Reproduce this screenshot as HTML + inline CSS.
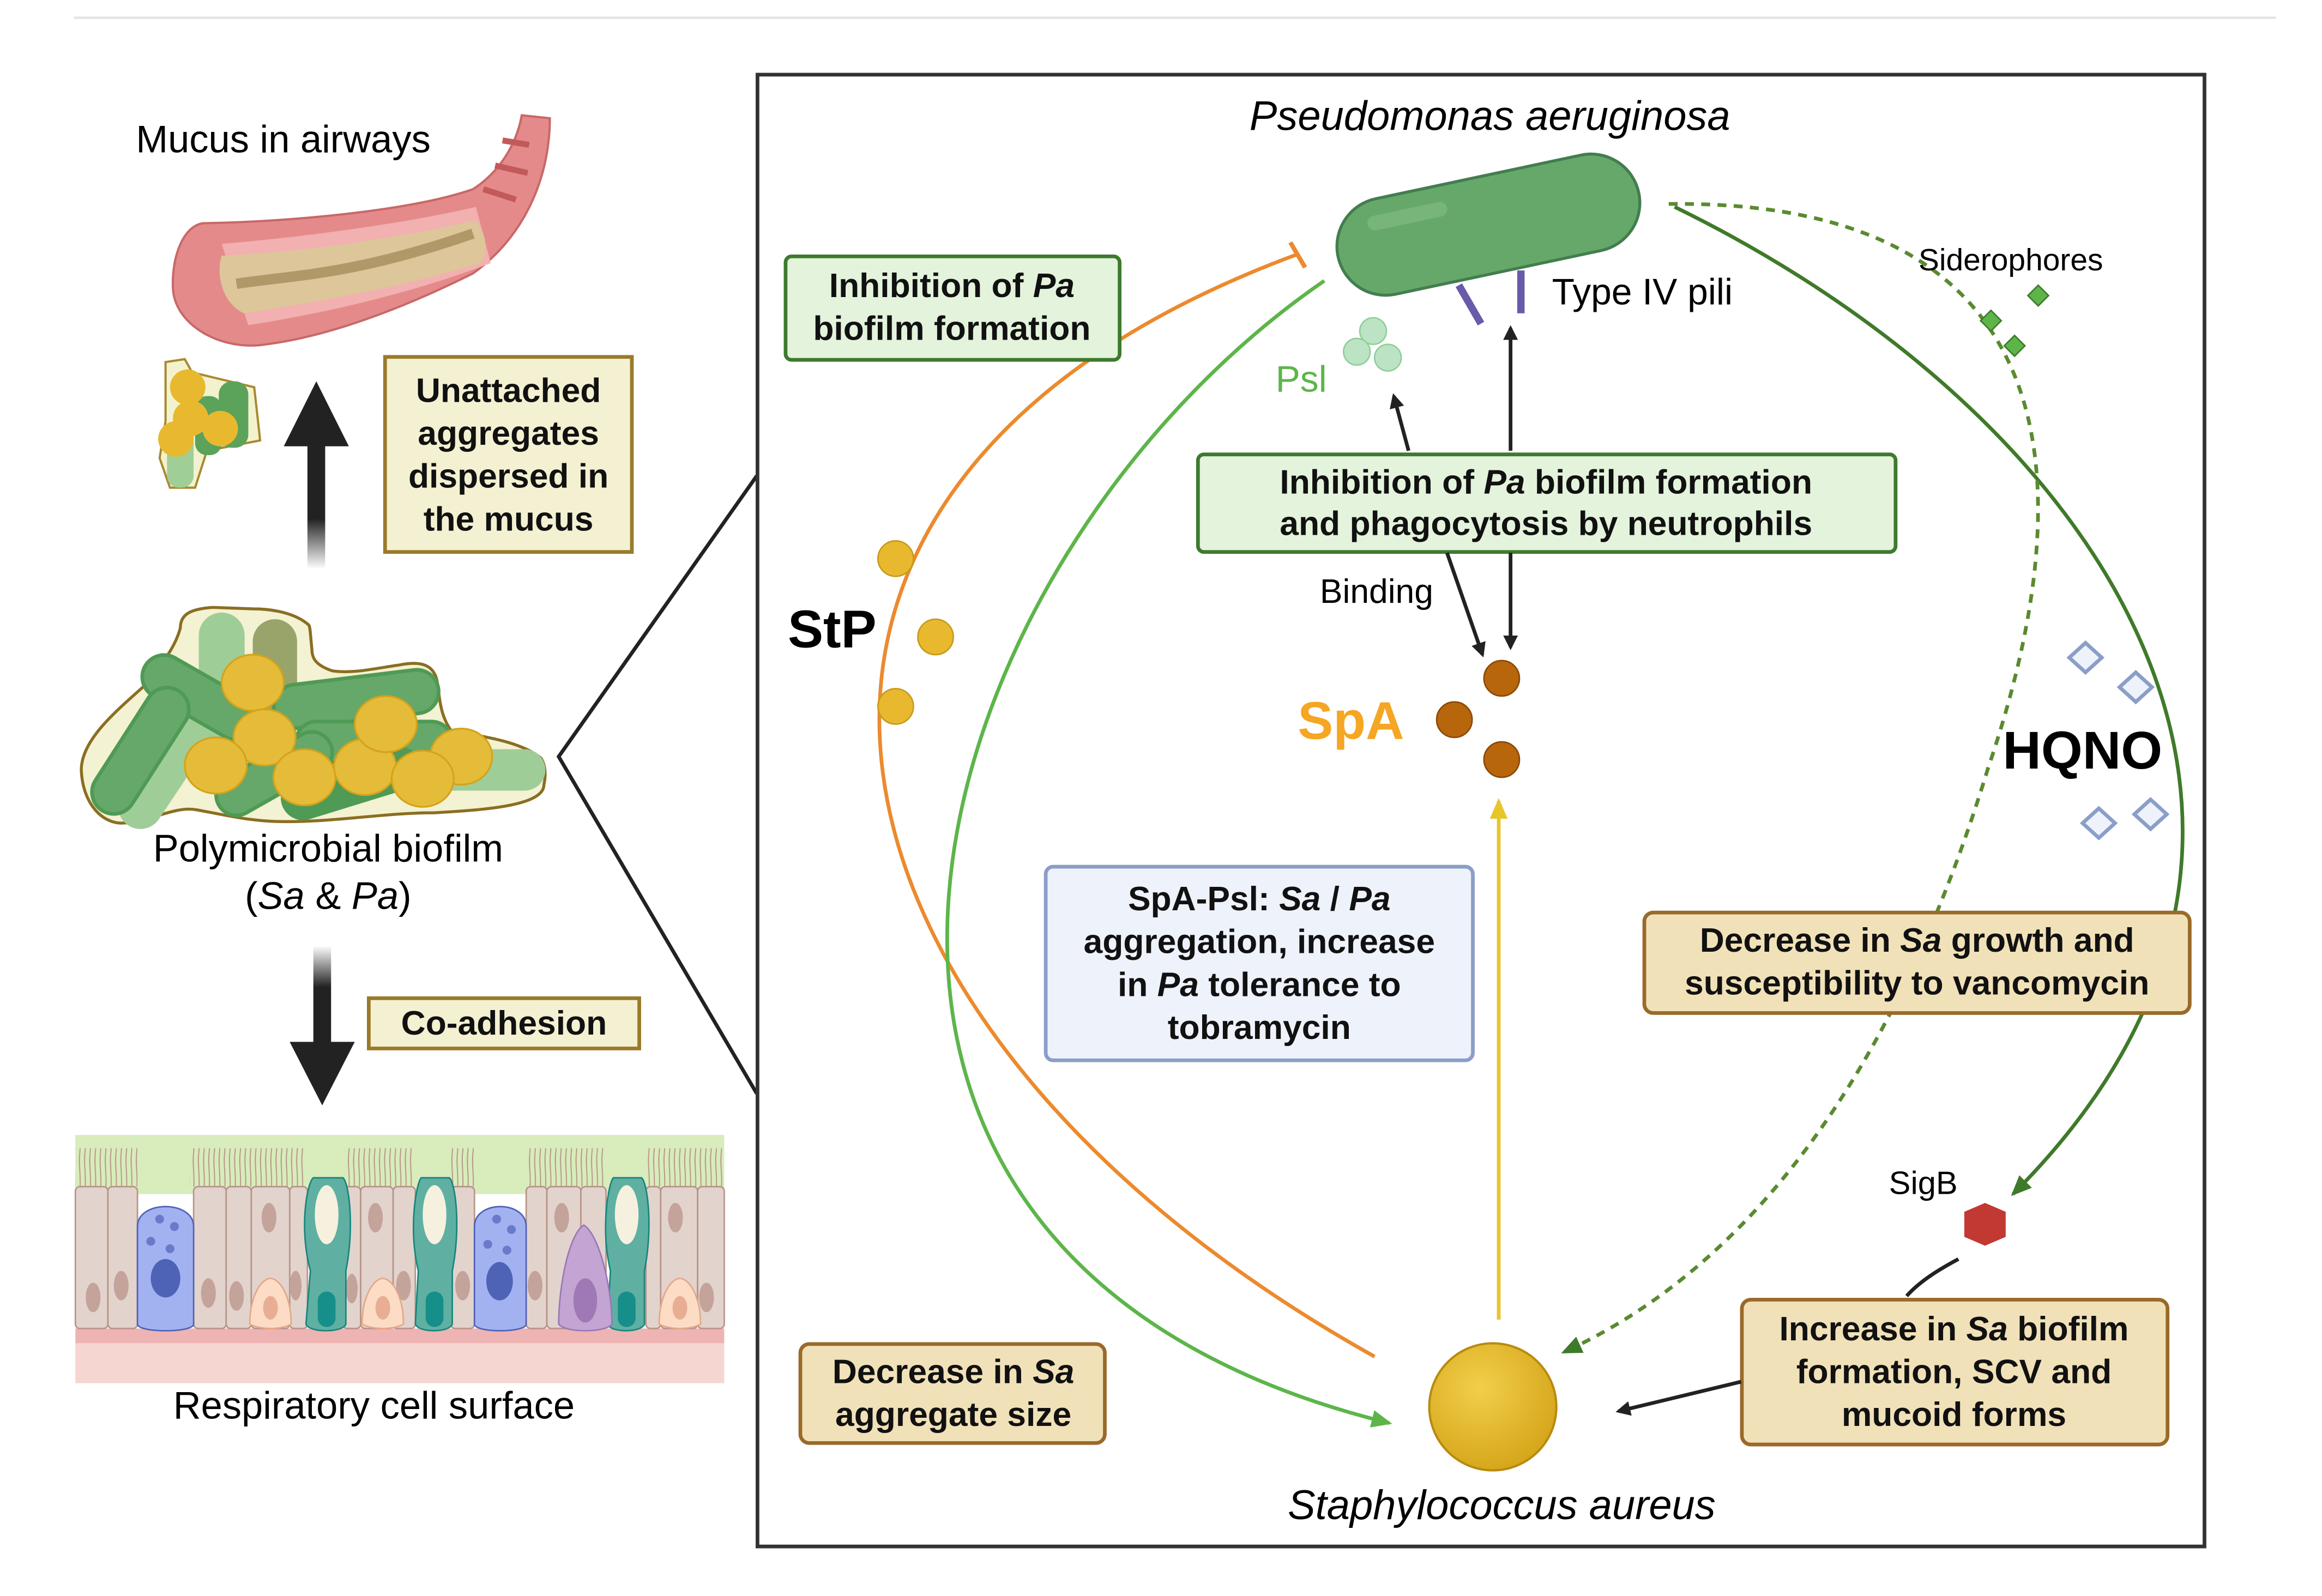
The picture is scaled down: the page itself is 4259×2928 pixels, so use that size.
<!DOCTYPE html>
<html><head><meta charset="utf-8">
<style>
html,body{margin:0;padding:0;background:#fff;}
svg{display:block;}
text{font-family:"Liberation Sans",sans-serif;}
.b{font-weight:bold;font-size:23px;fill:#111;}
</style></head><body>
<svg width="4259" height="2928" viewBox="0 0 1571 1080" xmlns="http://www.w3.org/2000/svg">
<defs>
<marker id="ak" markerWidth="10" markerHeight="10" refX="8" refY="5" orient="auto" markerUnits="userSpaceOnUse"><path d="M0,0 L10,5 L0,10 Z" fill="#222"/></marker>
<marker id="ag" markerWidth="14" markerHeight="12" refX="12" refY="6" orient="auto" markerUnits="userSpaceOnUse"><path d="M0,0 L14,6 L0,12 Z" fill="#5db54a"/></marker>
<marker id="adg" markerWidth="14" markerHeight="12" refX="12" refY="6" orient="auto" markerUnits="userSpaceOnUse"><path d="M0,0 L14,6 L0,12 Z" fill="#3f7a2a"/></marker>
<marker id="ady" markerWidth="14" markerHeight="12" refX="12" refY="6" orient="auto" markerUnits="userSpaceOnUse"><path d="M0,0 L14,6 L0,12 Z" fill="#e8c62a"/></marker>
<linearGradient id="fade" x1="0" y1="1" x2="0" y2="0"><stop offset="0" stop-color="#222" stop-opacity="0"/><stop offset="0.4" stop-color="#222"/></linearGradient>
<linearGradient id="fade2" x1="0" y1="0" x2="0" y2="1"><stop offset="0" stop-color="#222" stop-opacity="0"/><stop offset="0.4" stop-color="#222"/></linearGradient>
<radialGradient id="sa" cx="0.4" cy="0.35" r="0.7"><stop offset="0" stop-color="#f2cf4a"/><stop offset="1" stop-color="#d4a418"/></radialGradient>
<pattern id="cil" width="3.5" height="26" patternUnits="userSpaceOnUse"><path d="M1.5,0 C0.5,8 2.5,16 1.5,26" stroke="#b89488" stroke-width="0.7" fill="none"/></pattern>
</defs>
<line x1="50" y1="12" x2="1540" y2="12" stroke="#e2e2e2" stroke-width="1.5"/>

<!-- LEFT PANEL -->
<text x="92" y="103" font-size="26">Mucus in airways</text>
<path d="M138,151 C200,150 280,142 320,128 C340,115 350,95 353,78 L372,80 C372,120 355,160 320,185 C270,210 220,228 180,233 C150,238 118,220 117,195 C116,172 125,152 138,151Z" fill="#e58a8a" stroke="#c86868" stroke-width="1.5"/>
<path d="M340,95 l18,3 M335,112 l22,5 M327,128 l22,7" stroke="#c25a5a" stroke-width="4"/>
<path d="M150,165 C210,160 280,150 322,140 L332,178 C280,198 220,212 168,220 Z" fill="#f2b0b0"/>
<path d="M150,173 C200,171 270,161 322,149 C330,160 330,170 325,178 C270,195 210,205 165,212 C150,205 146,185 150,173Z" fill="#dcc69a"/>
<path d="M160,192 C200,186 240,186 320,158" stroke="#b09868" stroke-width="7" fill="none"/>
<path d="M112,245 L125,243 L130,252 L172,262 L176,298 L140,305 L132,330 L115,330 L108,310 L112,285 Z" fill="#f3f2cf" stroke="#a88a30" stroke-width="1.5"/>
<rect x="113" y="285" width="18" height="45" rx="8" fill="#9fcf97"/>
<rect x="148" y="258" width="20" height="45" rx="9" fill="#5ba25a"/>
<rect x="132" y="268" width="18" height="40" rx="8" fill="#5ba25a"/>
<circle cx="127" cy="262" r="12" fill="#e8b92e"/><circle cx="129" cy="283" r="12" fill="#e8b92e"/><circle cx="149" cy="290" r="12" fill="#e8b92e"/><circle cx="119" cy="297" r="12" fill="#e8b92e"/>
<rect x="208" y="300" width="12" height="85" fill="url(#fade)"/>
<path d="M192,302 L214,258 L236,302 Z" fill="#222"/>
<rect x="260.5" y="241.5" width="167" height="132" fill="#f4f1d2" stroke="#9a7a2a" stroke-width="2.5"/>
<text class="b" text-anchor="middle"><tspan x="344" y="272">Unattached</tspan><tspan x="344" y="301">aggregates</tspan><tspan x="344" y="330">dispersed in</tspan><tspan x="344" y="359">the mucus</tspan></text>
<path d="M144,411 C130,412 122,415 122,425 C118,440 108,450 100,462 C80,480 55,500 55,521 C56,545 70,557 82,557 C100,557 118,545 133,548 C155,552 170,556 193,556 C230,556 260,550 294,550 C330,548 368,545 368,531 C370,522 368,516 366,513 C350,500 320,498 305,494 C295,480 298,462 294,456 C290,448 280,448 270,450 C255,452 240,456 225,454 C213,450 211,445 211,439 C210,430 210,425 209,423 C200,415 185,412 171,412 Z" fill="#f3f2d2" stroke="#8a6e22" stroke-width="2"/>
<g stroke-linecap="round" fill="none">
<line x1="150" y1="430" x2="150" y2="500" stroke="#9fcd97" stroke-width="31"/>
<line x1="186" y1="434" x2="186" y2="490" stroke="#98a46a" stroke-width="30"/>
<line x1="131" y1="492" x2="95" y2="546" stroke="#9fcd97" stroke-width="30"/>
<line x1="111" y1="458" x2="160" y2="486" stroke="#4f9a55" stroke-width="32"/>
<line x1="111" y1="458" x2="160" y2="486" stroke="#66a86a" stroke-width="27"/>
<line x1="113" y1="480" x2="77" y2="536" stroke="#4f9a55" stroke-width="32"/>
<line x1="113" y1="480" x2="77" y2="536" stroke="#66a86a" stroke-width="27"/>
<line x1="301" y1="521" x2="355" y2="521" stroke="#9fcd97" stroke-width="28"/>
<line x1="200" y1="478" x2="282" y2="468" stroke="#4f9a55" stroke-width="32"/>
<line x1="200" y1="478" x2="282" y2="468" stroke="#66a86a" stroke-width="27"/>
<line x1="214" y1="502" x2="292" y2="502" stroke="#4f9a55" stroke-width="30"/>
<line x1="214" y1="502" x2="292" y2="502" stroke="#66a86a" stroke-width="25"/>
<line x1="160" y1="538" x2="211" y2="509" stroke="#4f9a55" stroke-width="30"/>
<line x1="160" y1="538" x2="211" y2="509" stroke="#66a86a" stroke-width="25"/>
<line x1="205" y1="540" x2="270" y2="520" stroke="#4f9a55" stroke-width="30"/>
</g>
<g fill="#e4bc3a" stroke="#d6a21a" stroke-width="1.2">
<ellipse cx="171" cy="462" rx="21" ry="19"/><ellipse cx="179" cy="499" rx="21" ry="19"/><ellipse cx="146" cy="518" rx="21" ry="19"/><ellipse cx="206" cy="526" rx="21" ry="19"/><ellipse cx="247" cy="519" rx="21" ry="19"/><ellipse cx="261" cy="490" rx="21" ry="19"/><ellipse cx="312" cy="512" rx="21" ry="19"/><ellipse cx="286" cy="527" rx="21" ry="19"/>
</g>
<text x="222" y="583" font-size="26" text-anchor="middle">Polymicrobial biofilm</text>
<text x="222" y="615" font-size="26" text-anchor="middle">(<tspan font-style="italic">Sa</tspan> &amp; <tspan font-style="italic">Pa</tspan>)</text>
<rect x="212" y="640" width="12" height="70" fill="url(#fade2)"/>
<path d="M196,705 L218,748 L240,705 Z" fill="#222"/>
<rect x="249.5" y="675.5" width="183" height="34" fill="#f4f1d2" stroke="#9a7a2a" stroke-width="2.5"/>
<text class="b" x="341" y="700" text-anchor="middle">Co-adhesion</text>
<rect x="51" y="768" width="439" height="40" fill="#d8ecbc"/>
<rect x="51" y="899" width="439" height="10" fill="#eeb3b3"/>
<rect x="51" y="909" width="439" height="27" fill="#f6d6d0"/>
<g fill="url(#cil)">
<rect x="51" y="777" width="42" height="26"/><rect x="128" y="777" width="78" height="26"/><rect x="233" y="777" width="46" height="26"/><rect x="305" y="777" width="16" height="26"/><rect x="356" y="777" width="54" height="26"/><rect x="437" y="777" width="53" height="26"/>
</g>
<g fill="#e2d3cd" stroke="#b89488" stroke-width="1">
<rect x="51" y="803" width="22" height="96" rx="3"/><rect x="73" y="803" width="20" height="96" rx="3"/><rect x="131" y="803" width="22" height="96" rx="3"/><rect x="153" y="803" width="17" height="96" rx="3"/><rect x="170" y="803" width="26" height="96" rx="3"/><rect x="196" y="803" width="12" height="96" rx="3"/><rect x="232" y="803" width="12" height="96" rx="3"/><rect x="244" y="803" width="22" height="96" rx="3"/><rect x="266" y="803" width="15" height="96" rx="3"/><rect x="305" y="803" width="16" height="96" rx="3"/><rect x="356" y="803" width="14" height="96" rx="3"/><rect x="370" y="803" width="23" height="96" rx="3"/><rect x="393" y="803" width="17" height="96" rx="3"/><rect x="437" y="803" width="10" height="96" rx="3"/><rect x="447" y="803" width="25" height="96" rx="3"/><rect x="472" y="803" width="18" height="96" rx="3"/>
</g>
<g fill="#c4a39b"><ellipse cx="63" cy="878" rx="5" ry="10"/><ellipse cx="82" cy="870" rx="5" ry="10"/><ellipse cx="141" cy="875" rx="5" ry="10"/><ellipse cx="160" cy="877" rx="5" ry="10"/><ellipse cx="182" cy="824" rx="5" ry="10"/><ellipse cx="200" cy="870" rx="4" ry="10"/><ellipse cx="238" cy="872" rx="4" ry="10"/><ellipse cx="254" cy="824" rx="5" ry="10"/><ellipse cx="273" cy="870" rx="5" ry="10"/><ellipse cx="313" cy="870" rx="5" ry="10"/><ellipse cx="362" cy="870" rx="5" ry="10"/><ellipse cx="380" cy="824" rx="5" ry="10"/><ellipse cx="421" cy="870" rx="5" ry="10"/><ellipse cx="457" cy="824" rx="5" ry="10"/><ellipse cx="478" cy="878" rx="5" ry="10"/></g>
<g fill="#a2b2f0" stroke="#5060b8"><path d="M93,896 L93,830 C93,812 131,812 131,830 L131,896 C131,902 93,902 93,896Z"/><path d="M321,896 L321,830 C321,812 356,812 356,830 L356,896 C356,902 321,902 321,896Z"/></g>
<g fill="#6a7acb"><circle cx="108" cy="825" r="3"/><circle cx="118" cy="830" r="3"/><circle cx="102" cy="840" r="3"/><circle cx="115" cy="845" r="3"/><circle cx="336" cy="825" r="3"/><circle cx="346" cy="832" r="3"/><circle cx="330" cy="842" r="3"/><circle cx="343" cy="846" r="3"/></g>
<g fill="#4e63b6"><ellipse cx="112" cy="865" rx="10" ry="13"/><ellipse cx="338" cy="867" rx="9" ry="13"/></g>
<g fill="#5fb0a2" stroke="#17857c"><path d="M207,896 L210,860 C202,830 208,800 212,797 L232,797 C236,800 240,830 234,860 L234,896 C232,902 209,902 207,896Z"/><path d="M281,896 L283,860 C276,830 282,800 285,797 L304,797 C308,800 312,830 306,860 L306,896 C304,902 283,902 281,896Z"/><path d="M411,896 L413,860 C406,830 412,800 415,797 L434,797 C438,800 442,830 436,860 L436,896 C434,902 413,902 411,896Z"/></g>
<g fill="#f6f1de"><ellipse cx="221" cy="822" rx="8" ry="20"/><ellipse cx="294" cy="822" rx="8" ry="20"/><ellipse cx="424" cy="822" rx="8" ry="20"/></g>
<g fill="#168e8a"><rect x="215" y="874" width="12" height="24" rx="6"/><rect x="288" y="874" width="12" height="24" rx="6"/><rect x="418" y="874" width="12" height="24" rx="6"/></g>
<path d="M378,896 C378,870 385,835 395,829 C405,835 414,870 414,896 C410,902 382,902 378,896Z" fill="#c3a4d2" stroke="#9878b8"/>
<ellipse cx="396" cy="880" rx="8" ry="15" fill="#9f79b6"/>
<g fill="#fcdcc5" stroke="#e3a888"><path d="M169,896 C169,880 175,866 183,865 C191,866 197,880 197,896 C190,900 176,900 169,896Z"/><path d="M245,896 C245,880 251,866 259,865 C267,866 273,880 273,896 C266,900 252,900 245,896Z"/><path d="M446,896 C446,880 452,866 460,865 C468,866 474,880 474,896 C467,900 453,900 446,896Z"/></g>
<g fill="#e8ae94"><ellipse cx="183" cy="885" rx="5" ry="8"/><ellipse cx="259" cy="885" rx="5" ry="8"/><ellipse cx="460" cy="885" rx="5" ry="8"/></g>
<text x="253" y="960" font-size="26" text-anchor="middle">Respiratory cell surface</text>

<path d="M512,322 L378,512 L512,740" stroke="#222" stroke-width="2.5" fill="none"/>
<rect x="512.5" y="50.5" width="979" height="996" fill="none" stroke="#333" stroke-width="2.5"/>
<text x="1008" y="88" font-size="28" font-style="italic" text-anchor="middle">Pseudomonas aeruginosa</text>

<path d="M930,918 C540,700 450,330 878,172" stroke="#ec8a2e" stroke-width="2.5" fill="none"/>
<line x1="873" y1="164" x2="883" y2="181" stroke="#ec8a2e" stroke-width="3"/>
<path d="M896,190 C620,380 480,850 940,963" stroke="#5db54a" stroke-width="2.5" fill="none" marker-end="url(#ag)"/>
<path d="M1133,140 C1420,280 1610,560 1362,808" stroke="#3f7a2a" stroke-width="2.5" fill="none" marker-end="url(#adg)"/>
<path d="M1129,138 C1380,135 1420,300 1345,520 C1290,700 1200,850 1058,915" stroke="#5a8a30" stroke-width="2.5" stroke-dasharray="6,5" fill="none" marker-end="url(#adg)"/>

<g transform="rotate(-12 1007 152)">
<rect x="903" y="119" width="208" height="66" rx="33" fill="#66a86a" stroke="#437d4f" stroke-width="2"/>
<rect x="927" y="130" width="55" height="10" rx="5" fill="#78b57a"/>
</g>
<line x1="987" y1="193" x2="1002" y2="219" stroke="#6a5aaa" stroke-width="5"/>
<line x1="1029" y1="183" x2="1029" y2="212" stroke="#6a5aaa" stroke-width="5"/>
<text x="1050" y="206" font-size="25">Type IV pili</text>
<g fill="#bce4c4" stroke="#8fcf9a"><circle cx="929" cy="224" r="9"/><circle cx="918" cy="238" r="9"/><circle cx="939" cy="242" r="9"/></g>
<text x="863" y="265" font-size="25" fill="#5db54a">Psl</text>
<text x="1298" y="183" font-size="21">Siderophores</text>
<g fill="#5db54a" stroke="#3f7a2a"><path d="M1347,210 l7,7 -7,7 -7,-7Z"/><path d="M1379,193 l7,7 -7,7 -7,-7Z"/><path d="M1363,227 l7,7 -7,7 -7,-7Z"/></g>

<rect x="531.5" y="173.5" width="226" height="70" rx="4" fill="#e4f3dc" stroke="#3d7a2e" stroke-width="2.5"/>
<text class="b" text-anchor="middle"><tspan x="644" y="201">Inhibition of <tspan font-style="italic">Pa</tspan></tspan><tspan x="644" y="230">biofilm formation</tspan></text>

<line x1="953" y1="305" x2="943" y2="268" stroke="#222" stroke-width="2.5" marker-end="url(#ak)"/>
<line x1="1022" y1="305" x2="1022" y2="222" stroke="#222" stroke-width="2.5" marker-end="url(#ak)"/>
<rect x="810.5" y="307.5" width="472" height="66" rx="4" fill="#e4f3dc" stroke="#3d7a2e" stroke-width="2.5"/>
<text class="b" text-anchor="middle"><tspan x="1046" y="334">Inhibition of <tspan font-style="italic">Pa</tspan> biofilm formation</tspan><tspan x="1046" y="362">and phagocytosis by neutrophils</tspan></text>
<line x1="979" y1="374" x2="1003" y2="443" stroke="#222" stroke-width="2.5" marker-end="url(#ak)"/>
<line x1="1022" y1="374" x2="1022" y2="438" stroke="#222" stroke-width="2.5" marker-end="url(#ak)"/>
<text x="893" y="408" font-size="23">Binding</text>
<text x="878" y="500" font-size="36" font-weight="bold" fill="#f5a623">SpA</text>
<g fill="#b8660c" stroke="#8a4a06"><circle cx="1016" cy="459" r="12"/><circle cx="984" cy="487" r="12"/><circle cx="1016" cy="514" r="12"/></g>
<text x="533" y="438" font-size="36" font-weight="bold">StP</text>
<g fill="#e8b92e" stroke="#c89a1a"><circle cx="606" cy="378" r="12"/><circle cx="633" cy="431" r="12"/><circle cx="606" cy="478" r="12"/></g>
<text x="1355" y="520" font-size="36" font-weight="bold">HQNO</text>
<g fill="#eef2fb" stroke="#8a9ec8" stroke-width="2.5"><path d="M1411,435 l11,10 -11,10 -11,-10Z"/><path d="M1445,455 l11,10 -11,10 -11,-10Z"/><path d="M1420,547 l11,10 -11,10 -11,-10Z"/><path d="M1455,541 l11,10 -11,10 -11,-10Z"/></g>

<line x1="1014" y1="893" x2="1014" y2="542" stroke="#e8c62a" stroke-width="2.5" marker-end="url(#ady)"/>
<rect x="707.5" y="586.5" width="289" height="131" rx="5" fill="#eef2fb" stroke="#8a9ec8" stroke-width="2.5"/>
<text class="b" text-anchor="middle"><tspan x="852" y="616">SpA-Psl: <tspan font-style="italic">Sa</tspan> / <tspan font-style="italic">Pa</tspan></tspan><tspan x="852" y="645">aggregation, increase</tspan><tspan x="852" y="674">in <tspan font-style="italic">Pa</tspan> tolerance to</tspan><tspan x="852" y="703">tobramycin</tspan></text>

<rect x="1112.5" y="617.5" width="369" height="68" rx="6" fill="#f1e1b8" stroke="#9a6a2a" stroke-width="2.5"/>
<text class="b" text-anchor="middle"><tspan x="1297" y="644">Decrease in <tspan font-style="italic">Sa</tspan> growth and</tspan><tspan x="1297" y="673">susceptibility to vancomycin</tspan></text>

<text x="1278" y="808" font-size="22">SigB</text>
<path d="M1343,814 l14,6 0,17 -14,6 -14,-6 0,-17Z" fill="#c23832"/>
<path d="M1325,852 C1310,860 1298,868 1290,877" stroke="#222" stroke-width="2.5" fill="none"/>
<rect x="1178.5" y="879.5" width="288" height="98" rx="6" fill="#f1e1b8" stroke="#9a6a2a" stroke-width="2.5"/>
<text class="b" text-anchor="middle"><tspan x="1322" y="907">Increase in <tspan font-style="italic">Sa</tspan> biofilm</tspan><tspan x="1322" y="936">formation, SCV and</tspan><tspan x="1322" y="965">mucoid forms</tspan></text>
<line x1="1178" y1="935" x2="1095" y2="955" stroke="#222" stroke-width="2.5" marker-end="url(#ak)"/>

<circle cx="1010" cy="952" r="43" fill="url(#sa)" stroke="#b88a10" stroke-width="1.5"/>
<text x="1016" y="1028" font-size="28" font-style="italic" text-anchor="middle">Staphylococcus aureus</text>

<rect x="541.5" y="909.5" width="206" height="67" rx="6" fill="#f1e1b8" stroke="#9a6a2a" stroke-width="2.5"/>
<text class="b" text-anchor="middle"><tspan x="645" y="936">Decrease in <tspan font-style="italic">Sa</tspan></tspan><tspan x="645" y="965">aggregate size</tspan></text>
</svg>
</body></html>
